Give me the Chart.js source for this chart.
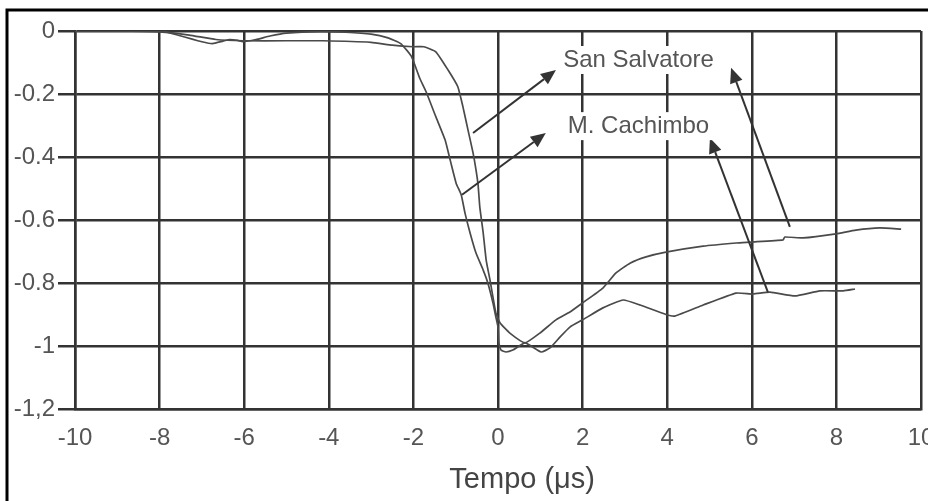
<!DOCTYPE html>
<html>
<head>
<meta charset="utf-8">
<script src="https://cdn.jsdelivr.net/npm/chart.js@4.4.1/dist/chart.umd.min.js"></script>
<style>
  html, body { margin: 0; padding: 0; background: #fff; }
  #wrap { width: 928px; height: 501px; }
</style>
</head>
<body>
<div id="wrap"><canvas id="chart" width="928" height="501"></canvas></div>
<script>
// M. Cachimbo (drops first, W-shaped minimum, ends near -0.82)
const cachimboX = [-10, -9, -8.6, -8.4, -8.2, -8.0, -7.6, -7.0, -6.75, -6.5, -6.34, -6.15, -6.03,
  -5.72, -5.39, -5.0, -4.2, -3.6, -3.0, -2.6, -2.3, -2.05, -1.85, -1.7, -1.47, -1.25, -1.13,
  -0.99, -0.87, -0.78, -0.66, -0.52, -0.35, -0.24, -0.12, -0.05, 0, 0.02, 0.07, 0.19, 0.35,
  0.64, 1.02, 1.23, 1.47, 1.7, 2.0, 2.48, 2.96, 3.36, 3.97, 4.18, 4.85, 5.63, 6.03, 6.43,
  7.02, 7.61, 8.16, 8.44];
const cachimboY = [0, 0, 0, 0.008, 0.015, 0.004, -0.012, -0.034, -0.04, -0.032, -0.027, -0.03, -0.034,
  -0.027, -0.016, -0.007, -0.002, -0.004, -0.01, -0.022, -0.04, -0.08, -0.15, -0.193, -0.272, -0.346, -0.41,
  -0.483, -0.52, -0.578, -0.641, -0.705, -0.759, -0.8, -0.863, -0.908, -0.94, -0.99, -1.013, -1.019, -1.013,
  -0.99, -1.019, -1.006, -0.971, -0.94, -0.917, -0.879, -0.854, -0.87, -0.9, -0.905, -0.87, -0.832, -0.835, -0.829,
  -0.841, -0.825, -0.825, -0.819];

// San Salvatore (drops later, ends near -0.63)
const salvatoreX = [-10, -9, -8.0, -7.3, -6.67, -6.03, -5, -4.14, -3.0, -2.5, -2.0, -1.75, -1.47,
  -1.18, -0.95, -0.83, -0.71, -0.59, -0.52, -0.47, -0.43, -0.35, -0.28, -0.19, -0.12, -0.05,
  0.05, 0.28, 0.64, 0.99, 1.37, 1.7, 2.0, 2.48, 2.79, 3.12, 3.5, 3.97, 4.85, 5.63, 5.98,
  6.74, 6.78, 7.21, 7.99, 8.46, 9.03, 9.53];
const salvatoreY = [0, 0, -0.003, -0.013, -0.027, -0.031, -0.031, -0.031, -0.036, -0.045, -0.05, -0.05, -0.066,
  -0.124, -0.177, -0.24, -0.314, -0.387, -0.441, -0.49, -0.559, -0.641, -0.727, -0.79, -0.844, -0.895,
  -0.927, -0.959, -0.99, -0.959, -0.917, -0.892, -0.863, -0.816, -0.768, -0.737, -0.717, -0.702, -0.683, -0.673, -0.67,
  -0.663, -0.654, -0.657, -0.644, -0.632, -0.625, -0.629];

const seriesNames = ['San Salvatore', 'M. Cachimbo'];
const xTickValues = [-10, -8, -6, -4, -2, 0, 2, 4, 6, 8, 10];
const yTickValues = [-1.2, -1, -0.8, -0.6, -0.4, -0.2, 0];
const yTickLabels = ['-1,2', '-1', '-0.8', '-0.6', '-0.4', '-0.2', '0'];
// a few leading spaces nudge the title right, as in the original
const xTitle = '      Tempo (\u03bcs)';

// label anchors and arrows, in data units (x, y)
const labelAt = [[1.54, -0.092], [1.65, -0.302]];
const arrowsFrom = [[-0.59, -0.324], [6.9, -0.622], [-0.85, -0.52], [6.38, -0.829]];
const arrowsTo = [[1.37, -0.124], [5.51, -0.117], [1.13, -0.324], [5.01, -0.34]];

const toPoints = (xs, ys) => xs.map((x, i) => ({x: x, y: ys[i]}));

const lineColor = '#4a4a4a';
const gridColor = '#333333';
const textColor = '#555555';
const fontFamily = '"Liberation Sans", Arial, sans-serif';

const framePlugin = {
  id: 'frame',
  beforeDraw(chart) {
    const ctx = chart.ctx;
    ctx.save();
    ctx.fillStyle = '#fff';
    ctx.fillRect(0, 0, chart.width, chart.height);
    ctx.strokeStyle = '#000';
    ctx.lineWidth = 3;
    ctx.beginPath();
    ctx.moveTo(7, chart.height);
    ctx.lineTo(7, 10);
    ctx.lineTo(chart.width, 10);
    ctx.stroke();
    ctx.restore();
  },
};

const notesPlugin = {
  id: 'notes',
  afterDatasetsDraw(chart) {
    const ctx = chart.ctx;
    const xs = chart.scales.x;
    const ys = chart.scales.y;
    ctx.save();
    ctx.strokeStyle = '#333';
    ctx.fillStyle = '#333';
    ctx.lineWidth = 2;
    arrowsFrom.forEach((from, i) => {
      const x1 = xs.getPixelForValue(from[0]);
      const y1 = ys.getPixelForValue(from[1]);
      const x2 = xs.getPixelForValue(arrowsTo[i][0]);
      const y2 = ys.getPixelForValue(arrowsTo[i][1]);
      const a = Math.atan2(y2 - y1, x2 - x1);
      const len = 15;
      const w = 6.5;
      const bx = x2 - len * Math.cos(a);
      const by = y2 - len * Math.sin(a);
      ctx.beginPath();
      ctx.moveTo(x1, y1);
      ctx.lineTo(bx, by);
      ctx.stroke();
      ctx.beginPath();
      ctx.moveTo(x2, y2);
      ctx.lineTo(bx + w * Math.sin(a), by - w * Math.cos(a));
      ctx.lineTo(bx - w * Math.sin(a), by + w * Math.cos(a));
      ctx.closePath();
      ctx.fill();
    });
    ctx.font = '24px ' + fontFamily;
    ctx.textBaseline = 'middle';
    ctx.textAlign = 'left';
    seriesNames.forEach((name, i) => {
      const x = xs.getPixelForValue(labelAt[i][0]);
      const y = ys.getPixelForValue(labelAt[i][1]);
      const w = ctx.measureText(name).width;
      ctx.fillStyle = '#fff';
      ctx.fillRect(x - 3, y - 14, w + 6, 28);
      ctx.fillStyle = textColor;
      ctx.fillText(name, x, y);
    });
    ctx.restore();
  },
};

new Chart(document.getElementById('chart'), {
  type: 'line',
  data: {
    datasets: [{
      label: seriesNames[0],
      data: toPoints(salvatoreX, salvatoreY),
      borderColor: lineColor,
      borderWidth: 1.7,
      pointRadius: 0,
      tension: 0.15,
      fill: false,
    }, {
      label: seriesNames[1],
      data: toPoints(cachimboX, cachimboY),
      borderColor: lineColor,
      borderWidth: 1.7,
      pointRadius: 0,
      tension: 0.15,
      fill: false,
    }],
  },
  options: {
    responsive: false,
    animation: false,
    devicePixelRatio: 1,
    layout: {padding: {left: 0, top: 31, right: 7, bottom: 0}},
    plugins: {
      legend: {display: false},
      tooltip: {enabled: false},
    },
    scales: {
      x: {
        type: 'linear',
        min: -10,
        max: 10,
        afterFit: (scale) => {
          scale.height = 92;
          scale.paddingLeft = 0;
          scale.paddingRight = 0;
        },
        afterBuildTicks: (scale) => {
          scale.ticks = xTickValues.map((v) => ({value: v}));
        },
        grid: {color: gridColor, lineWidth: 2.5, drawTicks: false},
        border: {color: gridColor, width: 2.5},
        ticks: {
          color: textColor,
          padding: 15,
          font: {family: fontFamily, size: 24},
          maxRotation: 0,
        },
        title: {
          display: true,
          text: xTitle,
          color: '#444',
          font: {family: fontFamily, size: 29},
          padding: {top: 8, bottom: 4},
        },
      },
      y: {
        type: 'linear',
        min: -1.2,
        max: 0,
        afterFit: (scale) => {
          scale.width = 75;
          scale.paddingTop = 0;
          scale.paddingBottom = 0;
        },
        afterBuildTicks: (scale) => {
          scale.ticks = yTickValues.map((v) => ({value: v}));
        },
        grid: {color: gridColor, lineWidth: 2.5, drawTicks: true, tickLength: 17},
        border: {color: gridColor, width: 2.5},
        ticks: {
          color: textColor,
          padding: 3,
          font: {family: fontFamily, size: 24},
          callback: (v) => yTickLabels[yTickValues.findIndex((t) => Math.abs(t - v) < 1e-6)],
        },
      },
    },
  },
  plugins: [framePlugin, notesPlugin],
});
</script>
</body>
</html>
